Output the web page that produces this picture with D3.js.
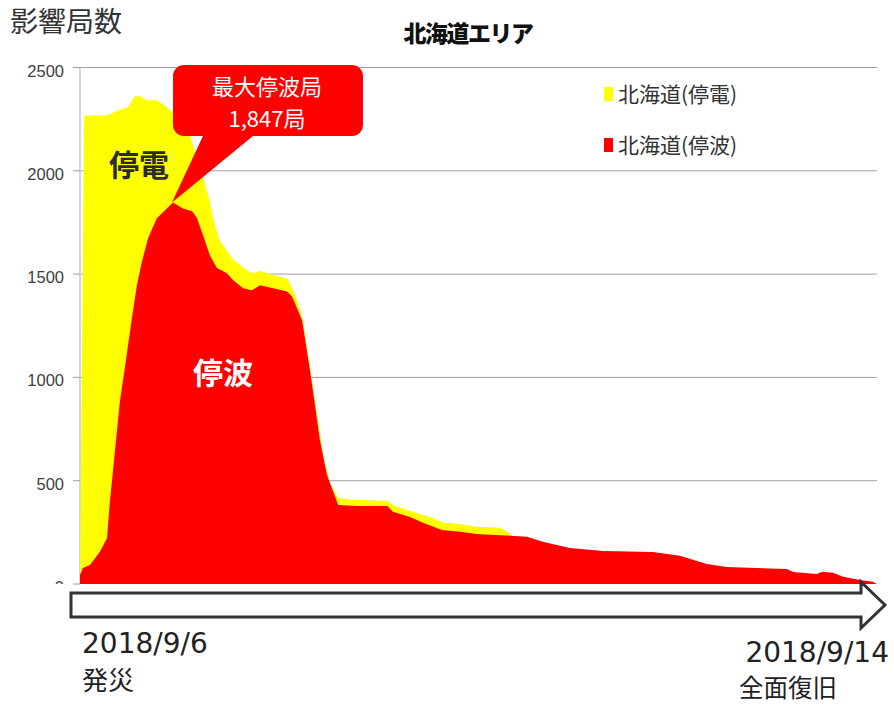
<!DOCTYPE html>
<html>
<head>
  <meta charset="utf-8">
  <style>
    body { margin: 0; background: #fff; }
    svg text { font-family: "Noto Sans CJK JP", "Liberation Sans", sans-serif; }
    svg .grid { stroke: #a0a0a0; stroke-width: 1px; }
    svg .tick-label { font: 16.5px "Liberation Sans", Arial, sans-serif; fill: #404040; }
  </style>
</head>
<body>
<script src="https://d3js.org/d3.v7.min.js"></script>
<script>
  // elapsed hours from 2018/9/6 (x) and affected stations (y)
  var powerHours  = [0, 1.0, 6.5, 9.6, 11.6, 13.2, 14.5, 16.1, 18.5, 21.0, 22.2, 24.1, 26.5, 28.2, 29.6,
                     31.3, 32.0, 33.7, 36.9, 40.2, 41.7, 43.4, 45.8, 48.9, 50.1, 52.3, 53.7, 55.4, 57.1,
                     58.5, 60.2, 62.2, 65.8, 74.0, 75.9, 80.2, 85.0, 87.4, 91.5, 95.6, 101.2, 102.9, 104.1];
  var powerCounts = [60, 2268, 2268, 2297, 2308, 2361, 2361, 2341, 2341, 2308, 2284, 2240, 2171, 2060, 1970,
                     1849, 1775, 1660, 1570, 1518, 1504, 1515, 1499, 1483, 1475, 1373, 1277, 1050, 827,
                     633, 488, 416, 408, 403, 377, 350, 319, 298, 290, 277, 272, 253, 234];

  var waveHours  = [0, 0.7, 2.4, 4.8, 6.5, 7.2, 8.4, 9.6, 10.8, 12.5, 13.7, 14.9, 16.4, 18.5, 20.5, 22.4,
                    24.8, 27.0, 28.2, 29.6, 31.3, 33.0, 35.4, 36.9, 39.3, 41.4, 43.4, 46.5, 49.9, 51.1,
                    53.5, 55.4, 56.1, 57.8, 59.5, 62.2, 66.7, 74.0, 75.4, 79.5, 82.6, 87.2, 91.5, 95.6,
                    103.6, 107.7, 111.5, 118.0, 126.0, 138.0, 144.5, 151.0, 155.9, 170.3, 171.8, 177.5,
                    178.8, 181.4, 183.8, 187.9, 191.0, 192.0];
  var waveCounts = [44, 77, 92, 156, 222, 398, 640, 882, 1045, 1286, 1446, 1559, 1673, 1770, 1809, 1847,
                    1818, 1804, 1770, 1690, 1590, 1530, 1504, 1470, 1431, 1422, 1446, 1431, 1416, 1390,
                    1277, 1035, 938, 696, 527, 382, 377, 377, 350, 324, 296, 261, 253, 242,
                    234, 229, 205, 174, 160, 155, 137, 97, 82, 73, 58, 48,
                    59, 55, 35, 19, 11, 0];

  var yTicks = [0, 500, 1000, 1500, 2000, 2500];
  var seriesNames = ["北海道(停電)", "北海道(停波)"];
  var peakValue = 1847;

  var width = 894, height = 704;
  var plot = { left: 80, right: 877, top: 67.5, bottom: 584 };

  var svg = d3.select("body")
    .append("svg")
      .attr("width", width)
      .attr("height", height);

  var xScale = d3.scaleLinear().domain([0, 192]).range([plot.left, plot.right]);
  var yScale = d3.scaleLinear().domain([0, 2500]).range([plot.bottom, plot.top]);

  // horizontal grid lines
  svg.selectAll("line.grid")
    .data(yTicks.filter(function (d) { return d > 0; }))
    .enter().append("line")
      .classed("grid", true)
      .attr("x1", plot.left)
      .attr("x2", plot.right)
      .attr("y1", function (d) { return yScale(d); })
      .attr("y2", function (d) { return yScale(d); });

  // y axis line + ticks
  svg.append("line")
      .attr("x1", plot.left).attr("x2", plot.left)
      .attr("y1", plot.top).attr("y2", plot.bottom)
      .style("stroke", "#c8c8c8")
      .style("stroke-width", "1.5px");

  svg.selectAll("line.ytick")
    .data(yTicks)
    .enter().append("line")
      .attr("class", "ytick")
      .attr("x1", plot.left - 7).attr("x2", plot.left)
      .attr("y1", function (d) { return yScale(d); })
      .attr("y2", function (d) { return yScale(d); })
      .style("stroke", "#a0a0a0");

  // tick labels (the "0" is cut off by the bottom band)
  svg.append("clipPath").attr("id", "labelClip")
    .append("rect").attr("x", 0).attr("y", 0).attr("width", plot.left).attr("height", plot.bottom);

  svg.append("g")
      .attr("clip-path", "url(#labelClip)")
    .selectAll("text")
    .data(yTicks)
    .enter().append("text")
      .attr("class", "tick-label")
      .attr("x", 64)
      .attr("y", function (d) { return yScale(d) + 9; })
      .style("text-anchor", "end")
      .text(function (d) { return d; });

  // areas: power outage behind, stopped stations in front
  var powerArea = d3.area()
    .x(function (d, i) { return xScale(powerHours[i]); })
    .y0(plot.bottom)
    .y1(function (d) { return yScale(d); });

  var waveArea = d3.area()
    .x(function (d, i) { return xScale(waveHours[i]); })
    .y0(plot.bottom)
    .y1(function (d) { return yScale(d); });

  svg.append("path")
      .attr("d", powerArea(powerCounts))
      .style("fill", "#ffff00");

  svg.append("path")
      .attr("d", waveArea(waveCounts))
      .style("fill", "#ff0000");

  // area labels
  svg.append("text")
      .attr("x", xScale(7.0))
      .attr("y", yScale(1975))
      .text("停電")
      .style("font-size", "30px")
      .style("font-weight", "bold")
      .style("fill", "#2b2b2b");

  svg.append("text")
      .attr("x", xScale(27.2))
      .attr("y", yScale(1000) + 7)
      .text("停波")
      .style("font-size", "30px")
      .style("font-weight", "bold")
      .style("fill", "#ffffff");

  // callout for the peak
  var peakIdx = waveCounts.indexOf(peakValue);
  var tipX = xScale(waveHours[peakIdx]) - 1, tipY = yScale(peakValue);
  var bx0 = 173, bx1 = 363, by0 = 65, by1 = 136, r = 11;
  var co = d3.path();
  co.moveTo(bx0 + r, by0);
  co.lineTo(bx1 - r, by0);
  co.arcTo(bx1, by0, bx1, by0 + r, r);
  co.lineTo(bx1, by1 - r);
  co.arcTo(bx1, by1, bx1 - r, by1, r);
  co.lineTo(253, by1);
  co.lineTo(tipX, tipY);
  co.lineTo(203, by1);
  co.lineTo(bx0 + r, by1);
  co.arcTo(bx0, by1, bx0, by1 - r, r);
  co.lineTo(bx0, by0 + r);
  co.arcTo(bx0, by0, bx0 + r, by0, r);
  co.closePath();

  svg.append("path")
      .attr("d", co.toString())
      .style("fill", "#ff0000");

  var callText = svg.append("text")
      .style("text-anchor", "middle")
      .style("font-size", "22px")
      .style("fill", "#ffffff");
  callText.append("tspan").attr("x", 267).attr("y", 95).text("最大停波局");
  callText.append("tspan").attr("x", 267).attr("y", 127).text(d3.format(",")(peakValue) + "局");

  // legend
  var legend = svg.selectAll("g.legend")
    .data(seriesNames)
    .enter().append("g")
      .attr("class", "legend")
      .attr("transform", function (d, i) { return "translate(604," + (87 + i * 51) + ")"; });

  legend.append("rect")
      .attr("width", 9).attr("height", 14)
      .style("fill", function (d, i) { return i === 0 ? "#ffff00" : "#ff0000"; });

  legend.append("text")
      .attr("x", 14).attr("y", 15)
      .text(function (d) { return d; })
      .style("font-size", "21px")
      .style("fill", "#333");

  // titles
  svg.append("text")
      .attr("x", 10).attr("y", 32)
      .text("影響局数")
      .style("font-size", "28px")
      .style("fill", "#333");

  svg.append("text")
      .attr("x", 468).attr("y", 42)
      .text("北海道エリア")
      .style("text-anchor", "middle")
      .style("font-size", "23px")
      .style("font-weight", "900")
      .style("letter-spacing", "-1.5px")
      .style("fill", "#111");

  // time arrow
  var ay0 = 593, ay1 = 617, ax0 = 71, axh = 861, axt = 885;
  svg.append("path")
      .attr("d", "M" + ax0 + "," + ay0 + "H" + axh + "V582L" + axt + ",605L" + axh + ",628V" + ay1 + "H" + ax0 + "Z")
      .style("fill", "#ffffff")
      .style("stroke", "#333")
      .style("stroke-width", "3px");

  var startText = svg.append("text").style("fill", "#222");
  startText.append("tspan")
      .attr("x", 82).attr("y", 653)
      .style("font-family", "'DejaVu Sans', sans-serif")
      .style("font-size", "28px")
      .text("2018/9/6");
  startText.append("tspan")
      .attr("x", 82).attr("y", 690)
      .style("font-size", "26px")
      .text("発災");

  var endText = svg.append("text").style("fill", "#222");
  endText.append("tspan")
      .attr("x", 889).attr("y", 662)
      .style("text-anchor", "end")
      .style("font-family", "'DejaVu Sans', sans-serif")
      .style("font-size", "28px")
      .text("2018/9/14");
  endText.append("tspan")
      .attr("x", 739).attr("y", 697)
      .style("font-size", "24.5px")
      .text("全面復旧");
</script>
</body>
</html>
